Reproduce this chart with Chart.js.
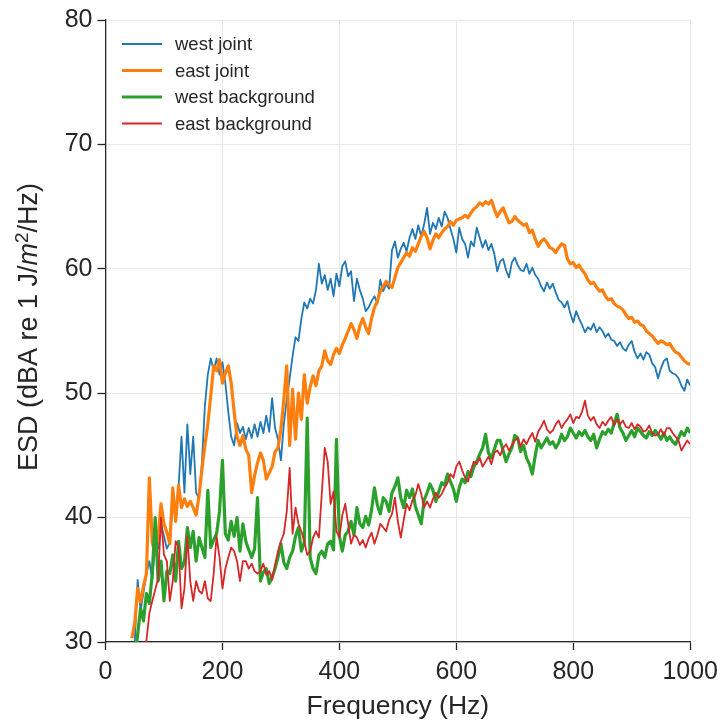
<!DOCTYPE html>
<html>
<head>
<meta charset="utf-8">
<script src="https://cdn.jsdelivr.net/npm/chart.js@4.4.0/dist/chart.umd.min.js"></script>
<style>
  html, body { margin: 0; padding: 0; background: #fff; }
  canvas { display: block; }
</style>
</head>
<body>
<canvas id="esdChart" width="725" height="726"></canvas>
<script>
// spectra sampled every 5 Hz, starting at 45 Hz
const freqStart = 45;
const freqStep = 5;

const westJoint = [
  28, 30, 35, 32.5, 34, 35.5, 36.5, 35, 38, 37.5,
  39.5, 38.5, 37.5, 38, 41, 40, 42.5, 46.5, 42, 47.5,
  43.5, 46.5, 42, 41.5, 44.5, 49, 51.5, 52.8, 51.8, 52.8,
  51.5, 52.5, 50.8, 48.5, 46.5, 45.8, 47.6, 46.8, 47.3, 46.3,
  47.2, 46.4, 47.5, 46.5, 47.7, 46.8, 48.2, 46.9, 49.6, 47.2,
  46.3, 44.6, 47.5, 49.5, 51.2, 53, 54.5, 54.2, 56, 57.3,
  56.8, 57.6, 57.2, 58.3, 60.4, 58.8, 59.5, 58.3, 59.2, 57.8,
  59.6, 58.6, 60.2, 60.6, 59.4, 59.8, 57.4, 59.2, 58.3, 57.6,
  56.6, 56.9, 57.4, 57.8, 57.2, 59.1, 58.2, 58.8, 58.4, 61.5,
  62.2, 60.9, 61.6, 62.1, 61.4, 62.5, 63.2, 62.4, 63.5, 62.6,
  63.6, 64.9, 62.8, 63.7, 63.2, 64.1, 63.4, 64.6, 64.1, 63.2,
  62.4, 61.3, 63.3, 62.4, 62, 60.9, 62.2, 61.8, 63.3, 62.5,
  61.7, 62.3, 61.5, 62, 61.2, 59.8, 60.6, 60.8, 59.9, 59.3,
  60.5, 60.9, 60.3, 59.9, 59.8, 60.4, 59.6, 60.1, 59.5, 59.2,
  58.6, 58.2, 58.9, 58.4, 58.8, 58.1, 57.5, 57.3, 56.9, 57.4,
  56.4, 55.7, 56.6, 56, 55.5, 54.9, 55.3, 55.1, 55.6, 54.9,
  55.3, 55, 54.5, 54.8, 54.3, 54.2, 53.8, 54.1, 53.6, 53.4,
  53.9, 54.2, 53.3, 52.8, 53.2, 52.7, 53.3, 53.1, 52.4, 52.1,
  51.2, 52, 52.6, 52.8, 51.8, 51.6, 51.5, 51.2, 50.6, 50.2,
  51.1, 50.6
];

const eastJoint = [
  30.3, 31.5, 34.3, 33.2, 34.5, 35.5, 43.2, 38, 37, 38.5,
  41.1, 39.5, 38.8, 37.9, 42.4, 39.7, 42.6, 40.8, 41.5, 40.9,
  41.3, 40.8, 40.2, 41.8, 43.9, 45.8, 47.5, 49.8, 52.2, 51.8,
  52.7, 50.8, 51.6, 52.2, 50.8, 48.5, 46.5, 45.8, 46.6, 45.5,
  45, 42, 43.4, 44.4, 45.2, 44.6, 43.1, 43.6, 44.1, 45.3,
  45.6, 47.1, 49.5, 52.2, 45.8, 50.3, 46.3, 50, 47.9, 51.5,
  49.2, 50.5, 51.4, 50.6, 51.8, 52.2, 53.4, 52.6, 52.3, 53.1,
  53.6, 53.2, 53.9, 54.4, 55, 55.6, 55.1, 54.4, 55.4, 56,
  55.3, 54.8, 56, 56.9, 57.4, 58.2, 58.6, 59, 58.7, 58.5,
  59.3, 60.1, 60.5, 60.9, 61.3, 61, 61.7, 61.4, 62, 62.6,
  63, 62.5, 61.6, 62.3, 62.8, 62.5, 62.9, 63.2, 63.4, 63.8,
  63.5, 63.9, 64, 64.1, 64.3, 64.1, 64.5, 64.8, 65, 65.3,
  65.1, 65.4, 65.2, 65.5, 64.8, 64.2, 64.6, 64.9, 64.3, 63.7,
  63.8, 64.2, 63.9, 63.7, 63.5, 63.6, 62.9, 63.1, 62.4, 61.8,
  62.2, 62.4, 62.1, 61.7, 61.6, 61.3, 61.7, 62, 61.9, 60.8,
  60.4, 60.5, 60.1, 60.3, 59.9, 59.6, 59.1, 58.8, 58.9, 58.5,
  58.2, 58.3, 57.8, 57.5, 57.6, 57.2, 57, 56.9, 56.7, 56.3,
  56, 56.1, 55.7, 55.8, 55.5, 55.4, 55, 54.8, 54.6, 54.3,
  54, 54.2, 54.1, 53.9, 54, 53.6, 53.3, 53.2, 52.9, 52.6,
  52.4, 52.3
];

const westBackground = [
  27, 28.5, 30.6, 32.7, 31.7, 33.9, 33.1, 35.5, 40, 34.9,
  36.5, 33.3, 35.7, 35.5, 37, 34.9, 38.1, 35.9, 36.4, 39.2,
  37.6, 38.9, 36.5, 38.4, 37.6, 36.8, 42.2, 37.6, 38.2, 38.7,
  40.5, 44.6, 38.7, 38.2, 39.7, 38.5, 40, 37.3, 39.5, 38.1,
  37.4, 36.8, 37.5, 41.6, 34.9, 35.6, 35.9, 34.7, 35.2, 35.9,
  36.8, 37.9, 36.4, 35.9, 36.8, 37.3, 38.5, 39.2, 37.3, 38,
  48, 36.8, 35.9, 35.5, 37, 37.3, 36.8, 37.9, 38.1, 37.4,
  46.3, 38.5, 37.3, 38.6, 38.9, 39.7, 38.6, 40.8, 39.5, 39.2,
  40.1, 39.4, 40.6, 42.4, 41, 40.3, 41.6, 41.3, 40.5, 42,
  42.5, 43.2, 41.6, 40.8, 42.2, 41.6, 42.3, 40.9, 40.2, 39.5,
  41.4, 42, 42.7, 42.2, 41.3, 42.1, 42.8, 42.6, 43.5, 42.9,
  42.3, 41.3, 42.4, 43.1, 42.8, 43.7, 43.3, 44.1, 44.5, 45.1,
  45.6, 46.7, 45.2, 44.8, 45.5, 46.2, 46.2, 45.4, 44.5, 45.1,
  45.6, 46.6, 46.4, 45.3, 45.8, 44.8, 44.3, 43.5, 45, 46.2,
  45.6, 46, 46.4, 45.9, 46.1, 45.6, 46, 46.7, 46.2, 46.5,
  47.2, 46.8, 46.4, 46.9, 46.6, 47, 46.5, 46.2, 46.7, 45.6,
  46.3, 46.9, 46.7, 47.1, 46.8, 47.6, 48.3, 47.2, 46.8, 46.2,
  46.6, 47, 46.5, 47.2, 46.9, 46.6, 46.4, 46.9, 46.6, 47,
  46.7, 46.3, 46.8, 46.2, 46.5, 46.1, 45.9, 46.4, 46.9, 46.6,
  47.2, 46.8
];

const eastBackground = [
  27, 27.5, 28, 28.5, 29.2, 30.1, 32.3, 33.3, 34.2, 35.1,
  40, 37, 36.5, 33.3, 34.9, 38.1, 37.6, 32.7, 34.3, 38.5,
  34.9, 33.3, 34.9, 34.1, 33.9, 34.9, 33.5, 33.3, 35.5, 38.5,
  36.8, 34.3, 35.9, 36.8, 37.6, 37.3, 36.5, 34.9, 36.5, 36.5,
  35.9, 36.3, 35.7, 35.5, 35.7, 36.3, 35.4, 35.7, 35, 36.2,
  37.3, 38.1, 38.7, 40.5, 44, 38.7, 40.8, 39.5, 38.9, 38.1,
  37, 37.3, 38.4, 38.9, 38.4, 42, 45.6, 44.5, 41.1, 42.1,
  38.9, 38.4, 40.2, 41.1, 39.5, 37.9, 38.6, 38.4, 37.8, 38.2,
  37.6, 38.3, 38.8, 37.9, 38.6, 39.5, 39.2, 38.9, 39.8, 40.3,
  41.6, 39.7, 38.4, 39.8, 41.1, 40.6, 41.4, 41.8, 42.7, 41.9,
  40.8, 41.3, 40.8, 41.5, 42, 41.6, 41.9, 42.4, 42.8, 43.5,
  43.2, 44.1, 44.5, 43.8, 43.2, 42.9, 43.8, 44.5, 44.3, 44.8,
  44.1, 44.5, 44.9, 44.3, 45.2, 45.4, 45, 45.6, 45.9, 45.4,
  45.8, 46.2, 46.4, 45.7, 46.3, 45.9, 46.4, 46.8, 46.1, 46.9,
  47.3, 47.8, 47.1, 46.8, 47, 47.5, 47.8, 47.2, 47.6, 47.9,
  48.3, 47.6, 48.1, 48, 48.5, 49.4, 48.2, 47.8, 48.1, 47.5,
  47.2, 47.7, 47.4, 47.8, 48.1, 47.4, 47.9, 47.5, 47.8, 47.3,
  47.2, 47.6, 47.1, 47.5, 47.3, 46.9, 47, 47.4, 46.8, 46.6,
  46.7, 47.1, 46.6, 47.2, 47.2, 46.8, 46.5, 46.2, 45.4, 45.8,
  46.2, 45.9
];

const freqHz = westJoint.map((_, i) => freqStart + i * freqStep);

const xTicks = [0, 200, 400, 600, 800, 1000];
const yTicks = [30, 40, 50, 60, 70, 80];

const seriesNames = ['west joint', 'east joint', 'west background', 'east background'];
const seriesValues = [westJoint, eastJoint, westBackground, eastBackground];
const seriesColors = ['#1f77b4', '#ff7f0e', '#2ca02c', '#d62728'];
const seriesWidths = [1.8, 3.2, 3.2, 1.8];

const FONT = "'Liberation Sans', Arial, Helvetica, sans-serif";
const INK = '#262626';

const datasets = seriesNames.map((name, i) => ({
  label: name,
  data: seriesValues[i].map((v, j) => ({ x: freqHz[j], y: v })),
  borderColor: seriesColors[i],
  backgroundColor: seriesColors[i],
  borderWidth: seriesWidths[i],
  borderJoinStyle: 'round',
  pointRadius: 0,
  tension: 0,
  clip: 0,
  // later series sit on top
  order: seriesNames.length - i
}));

const whiteBackground = {
  id: 'whiteBackground',
  beforeDraw(chart) {
    const ctx = chart.ctx;
    ctx.save();
    ctx.fillStyle = '#ffffff';
    ctx.fillRect(0, 0, chart.width, chart.height);
    ctx.restore();
  }
};

// y title with italic m and superscript 2
const yTitle = {
  id: 'yTitle',
  afterDraw(chart) {
    const ctx = chart.ctx;
    const area = chart.chartArea;
    const parts = [
      { text: 'ESD (dBA re 1 J/', font: `27px ${FONT}`, rise: 0 },
      { text: 'm', font: `italic 27px ${FONT}`, rise: 0 },
      { text: '2', font: `19px ${FONT}`, rise: 9 },
      { text: '/Hz)', font: `27px ${FONT}`, rise: 0 }
    ];
    let total = 0;
    parts.forEach(p => {
      ctx.font = p.font;
      p.w = ctx.measureText(p.text).width;
      total += p.w;
    });
    ctx.save();
    ctx.translate(37, (area.top + area.bottom) / 2 - 4);
    ctx.rotate(-Math.PI / 2);
    ctx.fillStyle = INK;
    ctx.textBaseline = 'alphabetic';
    ctx.textAlign = 'left';
    let x = -total / 2;
    parts.forEach(p => {
      ctx.font = p.font;
      ctx.fillText(p.text, x, -p.rise);
      x += p.w;
    });
    ctx.restore();
  }
};

const innerLegend = {
  id: 'innerLegend',
  afterDraw(chart) {
    const ctx = chart.ctx;
    const area = chart.chartArea;
    ctx.save();
    ctx.font = `18.5px ${FONT}`;
    ctx.textBaseline = 'middle';
    ctx.textAlign = 'left';
    seriesNames.forEach((name, i) => {
      const y = area.top + 24 + i * 26.5;
      ctx.strokeStyle = seriesColors[i];
      ctx.lineWidth = seriesWidths[i];
      ctx.beginPath();
      ctx.moveTo(area.left + 16.5, y);
      ctx.lineTo(area.left + 56.5, y);
      ctx.stroke();
      ctx.fillStyle = INK;
      ctx.fillText(name, area.left + 69.5, y + 1);
    });
    ctx.restore();
  }
};

const config = {
  type: 'line',
  data: { datasets },
  options: {
    responsive: false,
    animation: false,
    devicePixelRatio: 1,
    layout: {
      autoPadding: false,
      padding: { left: 0, top: 19.5, right: 31.5, bottom: 0 }
    },
    plugins: {
      legend: { display: false },
      tooltip: { enabled: false }
    },
    scales: {
      x: {
        type: 'linear',
        min: 0,
        max: 1000,
        afterBuildTicks: scale => { scale.ticks = xTicks.map(v => ({ value: v })); },
        afterFit: scale => { scale.height = 84; },
        grid: { color: '#e8e8e8', lineWidth: 1, tickColor: INK, tickWidth: 1.3, tickLength: 8 },
        border: { display: true, color: INK, width: 1.3 },
        ticks: {
          color: INK,
          padding: 7,
          maxRotation: 0,
          font: { family: FONT, size: 25 },
          callback: v => String(v)
        },
        title: {
          display: true,
          text: 'Frequency (Hz)',
          color: INK,
          padding: { top: 3, bottom: 3 },
          font: { family: FONT, size: 26.5 }
        }
      },
      y: {
        type: 'linear',
        min: 30,
        max: 80,
        afterBuildTicks: scale => { scale.ticks = yTicks.map(v => ({ value: v })); },
        afterFit: scale => { scale.width = 105.5; },
        grid: { color: '#e8e8e8', lineWidth: 1, tickColor: INK, tickWidth: 1.3, tickLength: 8 },
        border: { display: true, color: INK, width: 1.3 },
        ticks: {
          color: INK,
          padding: 5,
          font: { family: FONT, size: 25 },
          callback: v => String(v)
        },
        title: { display: false }
      }
    }
  },
  plugins: [whiteBackground, yTitle, innerLegend]
};

const esdChart = new Chart(document.getElementById('esdChart'), config);
</script>
</body>
</html>
